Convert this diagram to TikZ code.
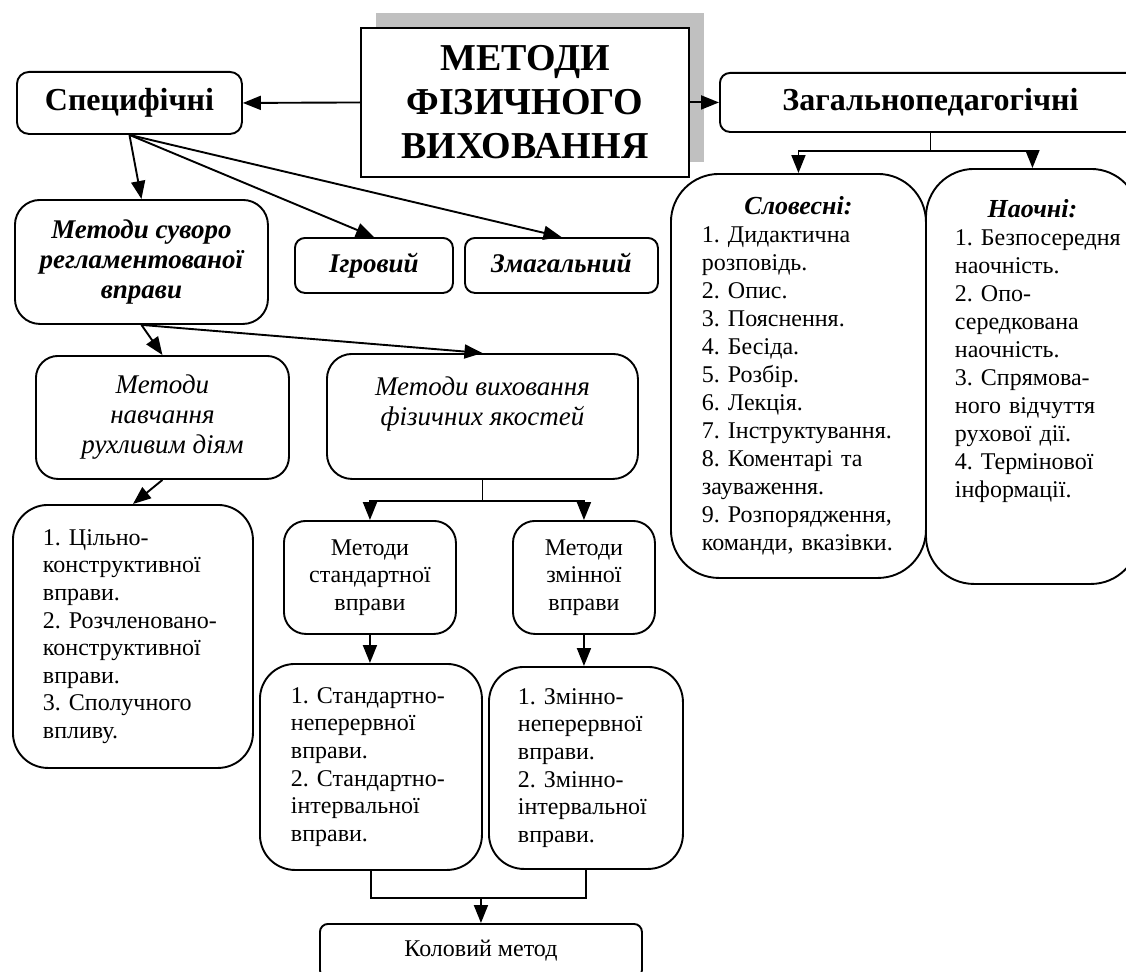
\documentclass[tikz,border=0pt]{standalone}
\usepackage{fontspec}
\setmainfont{Liberation Serif}
\usetikzlibrary{arrows.meta,shadows}
\definecolor{shade}{RGB}{192,192,192}
\frenchspacing

\begin{document}
\begin{tikzpicture}[x=1pt,y=-1pt,
	box/.style={draw,line width=1.9pt,inner sep=0pt,anchor=north west,align=center},
	list/.style={box,align=left,font={\fontsize{24}{27.6}\selectfont}},
	head/.style={font={\fontsize{32}{36}\selectfont\bfseries}},
	kind/.style={font={\fontsize{27}{30}\selectfont\bfseries\itshape}},
	group/.style={font={\fontsize{27}{30}\selectfont\itshape}},
	plain/.style={font={\fontsize{24}{27.6}\selectfont}},
	arr/.style={line width=1.9pt,-{Triangle[length=18pt,width=14pt]}},
	ln/.style={line width=1.9pt}]
	\useasboundingbox (0,0) rectangle (1126,971);
	\clip (0,0) rectangle (1126,971);

	\node[box,minimum width=328pt,minimum height=149pt,fill=white,
		drop shadow={shadow xshift=15pt,shadow yshift=15pt,fill=shade,opacity=1},
		font={\fontsize{38}{44}\selectfont\bfseries}] (main) at (360,27) {МЕТОДИ\\ФІЗИЧНОГО\\ВИХОВАННЯ};
	\node[box,head,rounded corners=12pt,minimum width=225pt,minimum height=62pt] (spec) at (16,71) {Специфічні};
	\node[box,head,rounded corners=10pt,minimum width=421pt,minimum height=59pt] (zag) at (719,72) {Загальнопедагогічні};

	\node[box,kind,rounded corners=25pt,minimum width=253pt,minimum height=124pt] (suvoro) at (14,199) {Методи суворо\\регламентованої\\вправи};
	\node[box,kind,rounded corners=10pt,minimum width=158pt,minimum height=55pt,text height=18pt,text depth=4pt] (igr) at (294,237) {Ігровий};
	\node[box,kind,rounded corners=10pt,minimum width=193pt,minimum height=55pt,text height=18pt,text depth=4pt] (zmag) at (464,237) {Змагальний};

	\node[box,group,rounded corners=22pt,minimum width=253pt,minimum height=123pt] (navch) at (35,355) {Методи\\навчання\\рухливим діям};
	\node[box,group,rounded corners=25pt,minimum width=311pt,minimum height=125pt] (vyhov) at (326,353) {Методи виховання\\фізичних якостей\\\mbox{}};

	\node[box,plain,rounded corners=22pt,minimum width=172pt,minimum height=113pt] (stand) at (283,520) {Методи\\стандартної\\вправи};
	\node[box,plain,rounded corners=22pt,minimum width=142pt,minimum height=113pt] (zmin) at (512,520) {Методи\\змінної\\вправи};

	\node[list,rounded corners=35pt,minimum width=240pt,minimum height=263pt,text width=180pt,inner xsep=30pt] (cilno) at (12,504)
		{1. Цільно-\\конструктивної\\вправи.\\2.~Розчленовано-\\конструктивної\\вправи.\\3. Сполучного\\впливу.};
	\node[list,rounded corners=35pt,minimum width=222pt,minimum height=206pt,text width=160pt,inner xsep=31pt] (standlist) at (259,663)
		{1.~Стандартно-\\неперервної\\вправи.\\2.~Стандартно-\\інтервальної\\вправи.};
	\node[list,rounded corners=35pt,minimum width=194pt,minimum height=202pt,text width=136pt,inner xsep=29pt] (zminlist) at (488,666)
		{1. Змінно-\\неперервної\\вправи.\\2. Змінно-\\інтервальної\\вправи.};

	\node[list,font={\fontsize{24}{28}\selectfont},rounded corners=48pt,minimum width=255pt,minimum height=404pt,text width=193pt,inner xsep=31pt] (slov) at (670,173)
		{\hfill{\fontsize{26}{28}\selectfont\textbf{\textit{Словесні:}}}\hfill\mbox{}\\1. Дидактична\\розповідь.\\2. Опис.\\3. Пояснення.\\4. Бесіда.\\5. Розбір.\\6. Лекція.\\7.~Інструктування.\\8. Коментарі та\\зауваження.\\9.~Розпорядження,\\команди,~вказівки.};
	\node[list,font={\fontsize{24}{28}\selectfont},rounded corners=48pt,minimum width=213pt,minimum height=415pt,text width=155pt,inner xsep=29pt] (naoch) at (925,168)
		{\hfill{\fontsize{26}{28}\selectfont\textbf{\textit{Наочні:}}}\hfill\mbox{}\\1.~Безпосередня\\наочність.\\2. Опо-\\середкована\\наочність.\\3. Спрямова-\\ного відчуття\\рухової дії.\\4. Термінової\\інформації.\\\mbox{}\\\mbox{}};

	\node[box,plain,rounded corners=8pt,minimum width=322pt,minimum height=54pt] (kolo) at (319,923) {Коловий метод};

	\draw[arr] (main.west) -- (spec.east);
	\draw[arr] (main.east) -- (zag.west);
	\draw[arr] (spec.south) -- (suvoro.north);
	\draw[arr] (spec.south) -- (igr.north);
	\draw[arr] (spec.south) -- (zmag.north);
	\draw[arr] (suvoro.south) -- (navch.north);
	\draw[arr] (suvoro.south) -- (vyhov.north);
	\draw[arr] (navch.south) -- (cilno.north);
	\draw[arr] (zag.south) -- ++(0,18) -| (slov.north);
	\draw[arr] (zag.south) -- ++(0,18) -| (naoch.north);
	\draw[arr] (vyhov.south) -- ++(0,21) -| (stand.north);
	\draw[arr] (vyhov.south) -- ++(0,21) -| (zmin.north);
	\draw[arr] (stand.south) -- (stand.south |- standlist.north);
	\draw[arr] (zmin.south) -- (zmin.south |- zminlist.north);
	\path (standlist.south) ++(0,27) coordinate (join);
	\draw[ln] (standlist.south) -- (join) -| (zminlist.south);
	\draw[arr] (join -| kolo.north) -- (kolo.north);
\end{tikzpicture}
\end{document}
